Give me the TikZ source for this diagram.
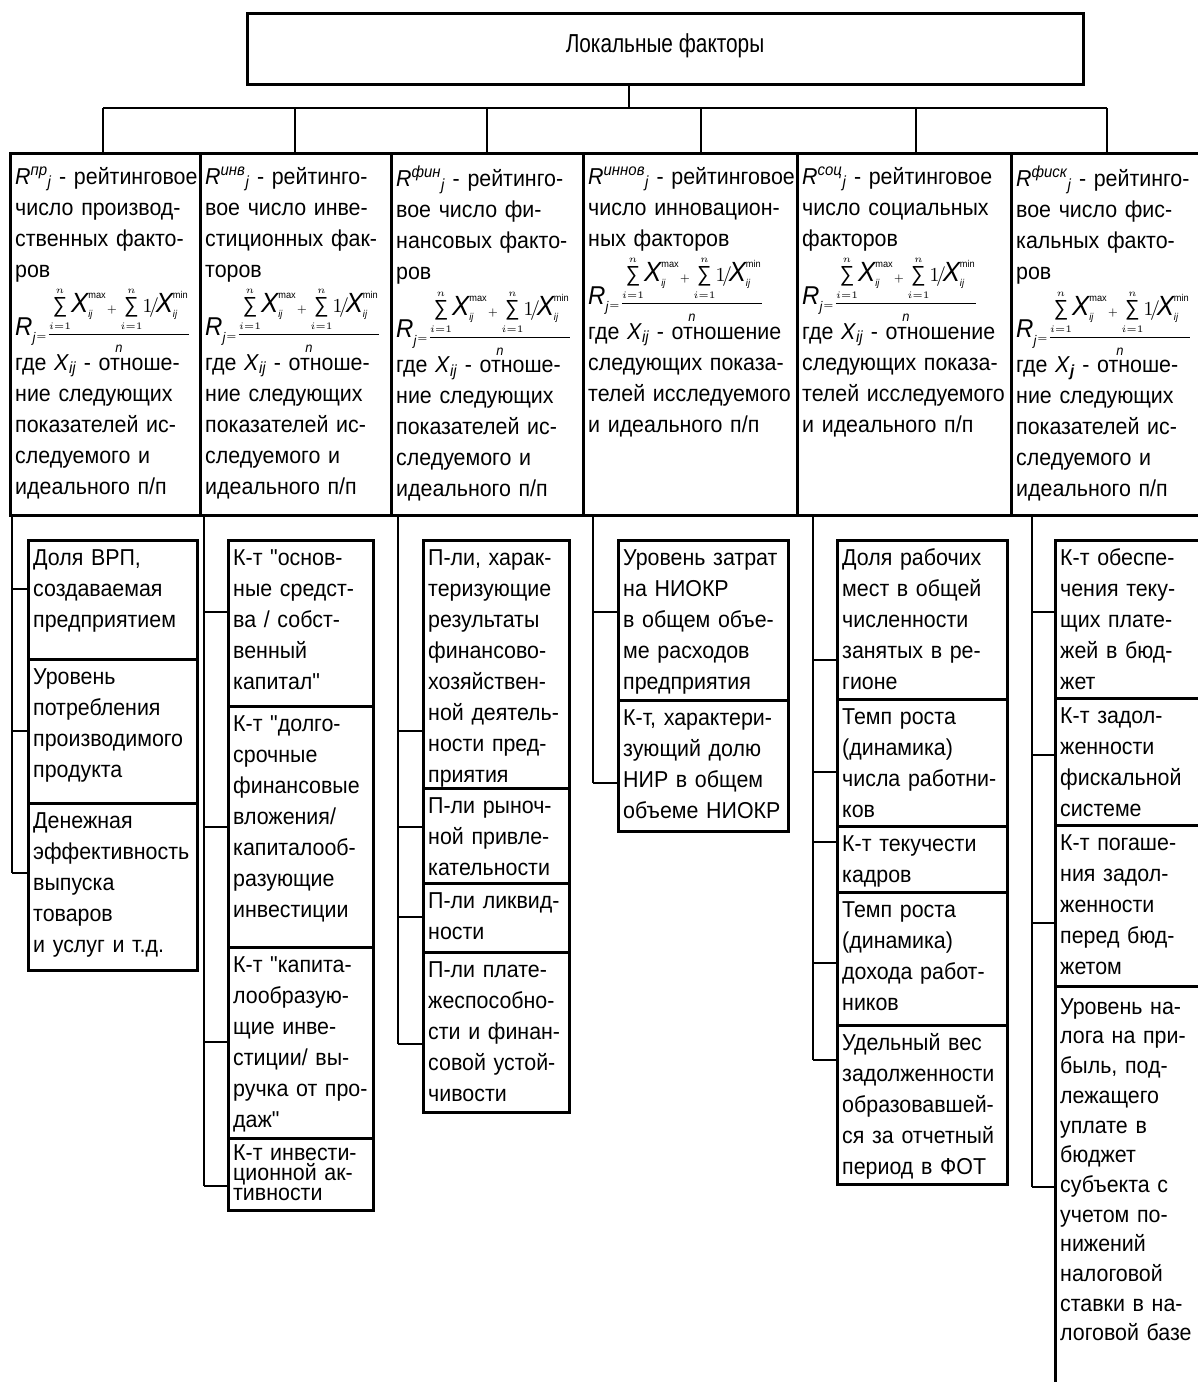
\documentclass[tikz,border=0pt]{standalone}
\usepackage{graphicx}
\usepackage{amsmath}
\usepackage{fontspec}
\setmainfont{Liberation Sans}[FakeStretch=0.93]
\newfontfamily\titlefont{Liberation Sans}[FakeStretch=0.8]
\newfontfamily\qfont{Liberation Sans}[FakeStretch=0.93,Ligatures=TeXOff]
\usetikzlibrary{calc}
\newcommand\q{{\qfont"}}
\newcommand\mystrut{\rule{0pt}{18pt}}
\newcommand\Rlab[1]{\textit{R}\textsuperscript{\itshape #1}\textsubscript{\itshape j}}
\newcommand\Xij{\textit{X}\textsubscript{\itshape ij}}
\newcommand\bigX{\text{\fontsize{14}{14}\selectfont\itshape X}}
\newcommand\Sm{\mathop{\text{\fontsize{11}{11}\selectfont ∑}}\limits_{\scriptscriptstyle i=1}^{\scriptscriptstyle n}}
\newcommand\Rform{\resizebox{176pt}{!}{\fontsize{10}{12}\selectfont$\raisebox{2pt}{\fontsize{13}{14}\selectfont\itshape R}_{\textit{j}}{\scriptscriptstyle=}\dfrac{\Sm\!\bigX_{\scriptscriptstyle\textit{ij}}^{\scriptscriptstyle\text{max}}{\scriptscriptstyle+}\Sm\!1\!/\!\bigX_{\scriptscriptstyle\textit{ij}}^{\scriptscriptstyle\text{min}}}{\scriptstyle\textit{n}}$}}
\tikzset{
  bx/.style={draw, line width=3pt, inner sep=0pt, outer sep=0pt, anchor=north west},
  txt/.style={anchor=north west, inner sep=0pt, align=left, text width=260pt, font=\fontsize{23}{31}\selectfont},
  conn/.style={line width=1.3pt},
}
\newcommand\cat[4]{%
  \node[bx, minimum width={(#3-#2)*1pt}, minimum height=362pt] (#1) at (#2,153) {};
  \node[txt] (#1t) at ($(#1.north west)+(5,13)$) {\mystrut#4};}
\newcommand\sub[7][]{%
  \node[bx, minimum width={(#5-#3)*1pt}, minimum height={(#6-#4)*1pt}] (#2) at (#3,#4) {};
  \node[txt,#1] (#2t) at ($(#2.north west)+(5,7)$) {\mystrut#7};}
\newcommand\ticks[3]{\foreach \yy/\bb in {#3}{\coordinate (k#2\bb) at (#1,\yy); \draw[conn] (k#2\bb) -- (k#2\bb -| #2\bb.west);}}
\begin{document}
\begin{tikzpicture}[x=1pt,y=-1pt]
\fill[white] (0,0) rectangle (1198,1382);
\useasboundingbox (0,0) rectangle (1198,1382);
\clip (0,0) rectangle (1198,1382);

% top box
\node[bx, minimum width=836pt, minimum height=71pt] (top) at (247,13) {};
\node[anchor=base, inner sep=0pt, font=\titlefont\fontsize{26}{30}\selectfont] (title) at ($(top.north)+(0,39)$) {Локальные факторы};

% category row
\cat{c1}{10}{200}{\Rlab{пр} - рейтинговое\\ число производ-\\ ственных факто-\\ ров\\ \mbox{}\\ \smash{\Rform}\\ где \Xij{} - отноше-\\ ние следующих\\ показателей ис-\\ следуемого и\\ идеального п/п}
\cat{c2}{200}{391}{\Rlab{инв} - рейтинго-\\ вое число инве-\\ стиционных фак-\\ торов\\ \mbox{}\\ \smash{\Rform}\\ где \Xij{} - отноше-\\ ние следующих\\ показателей ис-\\ следуемого и\\ идеального п/п}
\cat{c3}{391}{583}{\Rlab{фин} - рейтинго-\\ вое число фи-\\ нансовых факто-\\ ров\\ \mbox{}\\ \smash{\Rform}\\ где \Xij{} - отноше-\\ ние следующих\\ показателей ис-\\ следуемого и\\ идеального п/п}
\cat{c4}{583}{797}{\Rlab{иннов} - рейтинговое\\ число инновацион-\\ ных факторов\\ \mbox{}\\ \smash{\Rform}\\ где \Xij{} - отношение\\ следующих показа-\\ телей исследуемого\\ и идеального п/п}
\cat{c5}{797}{1011}{\Rlab{соц} - рейтинговое\\ число социальных\\ факторов\\ \mbox{}\\ \smash{\Rform}\\ где \Xij{} - отношение\\ следующих показа-\\ телей исследуемого\\ и идеального п/п}
\cat{c6}{1011}{1204}{\Rlab{фиск} - рейтинго-\\ вое число фис-\\ кальных факто-\\ ров\\ \mbox{}\\ \smash{\Rform}\\ где \textit{X}\textsubscript{\bfseries\itshape j} - отноше-\\ ние следующих\\ показателей ис-\\ следуемого и\\ идеального п/п}

% connectors from top
\coordinate (hub) at (629,108);
\draw[conn] (hub |- top.south) -- (hub);
\foreach \i/\xx in {1/103,2/295,3/487,4/701,5/916,6/1107}{\coordinate (h\i) at (\xx,108); \draw[conn] (h\i) -- (h\i |- c\i.north);}
\draw[conn] (h1) -- (h6);

% column 1
\sub{s11}{28}{540}{197}{659}{Доля ВРП,\\ создаваемая\\ предприятием}
\sub{s12}{28}{659}{197}{803}{Уровень\\ потребления\\ производимого\\ продукта}
\sub{s13}{28}{803}{197}{970}{Денежная\\ эффективность\\ выпуска\\ товаров\\ и услуг и т.д.}
\ticks{12}{s1}{589/1,731/2,873/3}
\draw[conn] (ks13 |- c1.south) -- (ks13);

% column 2
\sub{s21}{228}{540}{373}{706}{К-т \q основ-\\ ные средст-\\ ва / собст-\\ венный\\ капитал\q}
\sub{s22}{228}{706}{373}{947}{К-т \q долго-\\ срочные\\ финансовые\\ вложения/\\ капиталооб-\\ разующие\\ инвестиции}
\sub{s23}{228}{947}{373}{1138}{К-т \q капита-\\ лообразую-\\ щие инве-\\ стиции/ вы-\\ ручка от про-\\ даж\q}
\sub[yshift=3pt, font=\fontsize{23}{20}\selectfont]{s24}{228}{1138}{373}{1210}{К-т инвести-\\ ционной ак-\\ тивности}
\ticks{204}{s2}{612/1,827/2,1042/3,1186/4}
\draw[conn] (ks24 |- c2.south) -- (ks24);

% column 3
\sub{s31}{423}{540}{569}{788}{П-ли, харак-\\ теризующие\\ результаты\\ финансово-\\ хозяйствен-\\ ной деятель-\\ ности пред-\\ приятия}
\sub{s32}{423}{788}{569}{883}{П-ли рыноч-\\ ной привле-\\ кательности}
\sub{s33}{423}{883}{569}{952}{П-ли ликвид-\\ ности}
\sub{s34}{423}{952}{569}{1112}{П-ли плате-\\ жеспособно-\\ сти и финан-\\ совой устой-\\ чивости}
\ticks{398}{s3}{731/1,827/2,917/3,1044/4}
\draw[conn] (ks34 |- c3.south) -- (ks34);

% column 4
\sub{s41}{618}{540}{788}{700}{Уровень затрат\\ на НИОКР\\ в общем объе-\\ ме расходов\\ предприятия}
\sub{s42}{618}{700}{788}{831}{К-т, характери-\\ зующий долю\\ НИР в общем\\ объеме НИОКР}
\ticks{593}{s4}{612/1,783/2}
\draw[conn] (ks42 |- c4.south) -- (ks42);

% column 5
\sub{s51}{837}{540}{1007}{699}{Доля рабочих\\ мест в общей\\ численности\\ занятых в ре-\\ гионе}
\sub{s52}{837}{699}{1007}{826}{Темп роста\\ (динамика)\\ числа работни-\\ ков}
\sub{s53}{837}{826}{1007}{892}{К-т текучести\\ кадров}
\sub{s54}{837}{892}{1007}{1025}{Темп роста\\ (динамика)\\ дохода работ-\\ ников}
\sub{s55}{837}{1025}{1007}{1184}{Удельный вес\\ задолженности\\ образовавшей-\\ ся за отчетный\\ период в ФОТ}
\ticks{813}{s5}{660/1,772/2,842/3,963/4,1060/5}
\draw[conn] (ks55 |- c5.south) -- (ks55);

% column 6
\sub{s61}{1055}{540}{1204}{698}{К-т обеспе-\\ чения теку-\\ щих плате-\\ жей в бюд-\\ жет}
\sub{s62}{1055}{698}{1204}{825}{К-т задол-\\ женности\\ фискальной\\ системе}
\sub{s63}{1055}{825}{1204}{986}{К-т погаше-\\ ния задол-\\ женности\\ перед бюд-\\ жетом}
\sub[yshift=-3pt, font=\fontsize{23}{29.7}\selectfont]{s64}{1055}{986}{1204}{1400}{Уровень на-\\ лога на при-\\ быль, под-\\ лежащего\\ уплате в\\ бюджет\\ субъекта с\\ учетом по-\\ нижений\\ налоговой\\ ставки в на-\\ логовой базе}
\ticks{1032}{s6}{612/1,755/2,923/3,1187/4}
\draw[conn] (ks64 |- c6.south) -- (ks64);
\end{tikzpicture}
\end{document}
